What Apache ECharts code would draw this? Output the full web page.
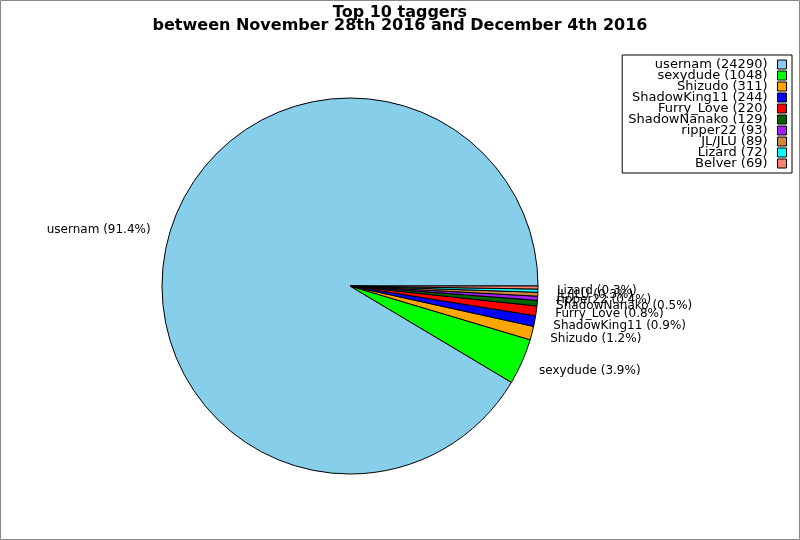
<!DOCTYPE html>
<html>
<head>
<meta charset="utf-8">
<script src="https://cdn.jsdelivr.net/npm/echarts@6/dist/echarts.min.js"></script>
<style>
  html, body { margin: 0; padding: 0; background: #fff; }
  #chart { width: 800px; height: 540px; }
</style>
</head>
<body>
<div id="chart"></div>
<script>
// taggers and their tag counts
const names = ['usernam', 'sexydude', 'Shizudo', 'ShadowKing11', 'Furry_Love',
  'ShadowNanako', 'ripper22', 'JL/JLU', 'Lizard', 'Belver'];
const counts = [24290, 1048, 311, 244, 220, 129, 93, 89, 72, 69];
const colors = ['#87ceeb', '#00ff00', '#ffa500', '#0000ff', '#ff0000',
  '#006400', '#a020f0', '#cd853f', '#00ffff', '#fa8072'];

const total = counts.reduce((a, b) => a + b, 0);
// the last slice has no label in the original picture
const pieData = names.map((n, i) => ({
  name: n,
  value: counts[i],
  label: { show: n !== 'Belver' }
}));

const myChart = echarts.init(document.getElementById('chart'), null, { renderer: 'canvas' });

myChart.setOption({
  animation: false,
  color: colors,
  textStyle: { fontFamily: 'DejaVu Sans' },
  title: {
    text: 'Top 10 taggers\nbetween November 28th 2016 and December 4th 2016',
    left: 'center',
    top: 1,
    textStyle: {
      fontFamily: 'DejaVu Sans',
      fontSize: 16,
      fontWeight: 'bold',
      lineHeight: 13,
      color: '#000'
    }
  },
  legend: {
    orient: 'vertical',
    right: 8,
    top: 55,
    align: 'right',
    borderColor: '#000',
    borderWidth: 1,
    borderRadius: 0,
    padding: [3, 5, 3, 6],
    itemWidth: 9,
    itemHeight: 9,
    itemGap: -2,
    selectedMode: false,
    icon: 'rect',
    itemStyle: { borderColor: '#000', borderWidth: 1 },
    data: names,
    formatter: function (name) {
      return name + ' (' + counts[names.indexOf(name)] + ')';
    },
    textStyle: {
      fontFamily: 'DejaVu Sans',
      fontSize: 13,
      lineHeight: 11,
      color: '#000',
      padding: [0, 5, 0, 0]
    }
  },
  graphic: [{
    type: 'rect',
    shape: { x: 0.5, y: 0.5, width: 799, height: 539 },
    style: { fill: 'none', stroke: '#888', lineWidth: 1 },
    silent: true
  }],
  series: [{
    type: 'pie',
    center: [350, 286],
    radius: 188,
    startAngle: 0,
    clockwise: false,
    avoidLabelOverlap: false,
    legendHoverLink: false,
    emphasis: { disabled: true },
    itemStyle: { borderColor: '#000', borderWidth: 1 },
    labelLayout: { hideOverlap: false },
    label: {
      show: true,
      position: 'outside',
      fontFamily: 'DejaVu Sans',
      fontSize: 12,
      color: '#000',
      formatter: function (p) {
        return p.name + ' (' + (p.value / total * 100).toFixed(1) + '%)';
      }
    },
    labelLine: { show: false, length: 24, length2: -10 },
    data: pieData
  }]
});
</script>
</body>
</html>
